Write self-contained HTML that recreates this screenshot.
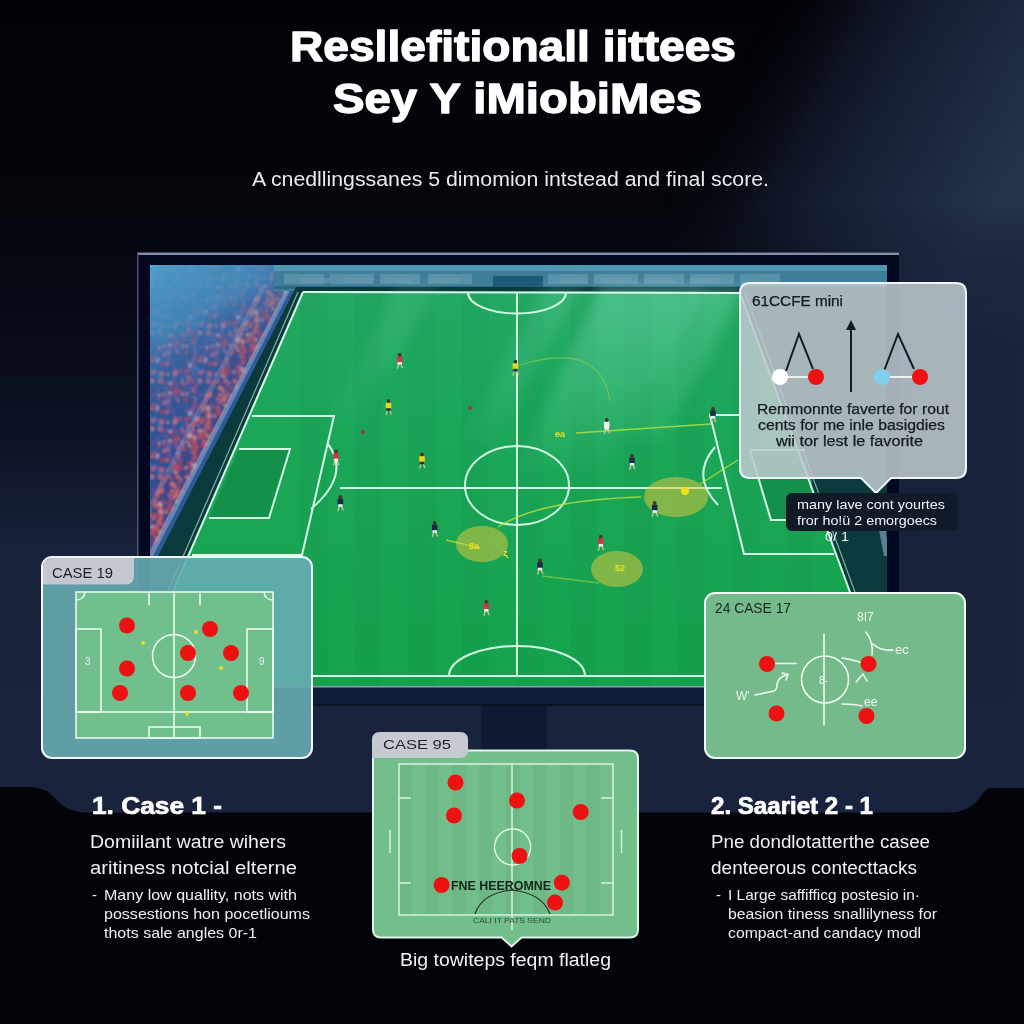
<!DOCTYPE html>
<html><head><meta charset="utf-8">
<style>
html,body{margin:0;padding:0;width:1024px;height:1024px;overflow:hidden;background:#04060b;}
svg{display:block;position:absolute;left:0;top:0;}
text{font-family:"Liberation Sans",sans-serif;}
</style></head>
<body>
<svg width="1024" height="1024" viewBox="0 0 1024 1024">
<defs>
  <linearGradient id="bgD" x1="700" y1="30" x2="1000" y2="198" gradientUnits="userSpaceOnUse">
    <stop offset="0.15" stop-color="#04060c" stop-opacity="0"/>
    <stop offset="0.4" stop-color="#0d1320"/>
    <stop offset="0.57" stop-color="#151e32"/>
    <stop offset="0.8" stop-color="#1d2942"/>
    <stop offset="1" stop-color="#24324c"/>
  </linearGradient>
  <linearGradient id="vOut" x1="0" y1="0" x2="0" y2="1024" gradientUnits="userSpaceOnUse">
    <stop offset="0.2" stop-color="#fff"/><stop offset="0.34" stop-color="#000"/>
  </linearGradient>
  <linearGradient id="vIn" x1="0" y1="0" x2="0" y2="1024" gradientUnits="userSpaceOnUse">
    <stop offset="0.16" stop-color="#000"/><stop offset="0.3" stop-color="#fff"/>
  </linearGradient>
  <mask id="mOut"><rect width="1024" height="1024" fill="url(#vOut)"/></mask>
  <mask id="mIn"><rect width="1024" height="1024" fill="url(#vIn)"/></mask>
  <linearGradient id="bgR" x1="0" y1="0" x2="1024" y2="0" gradientUnits="userSpaceOnUse">
    <stop offset="0" stop-color="#18223a" stop-opacity="0"/>
    <stop offset="0.72" stop-color="#18223a" stop-opacity="0"/>
    <stop offset="0.86" stop-color="#18223a" stop-opacity="0.9"/>
    <stop offset="1" stop-color="#19233b" stop-opacity="1"/>
  </linearGradient>
  <linearGradient id="bgV" x1="0" y1="0" x2="0" y2="1024" gradientUnits="userSpaceOnUse">
    <stop offset="0" stop-color="#020308"/>
    <stop offset="0.2" stop-color="#04060c"/>
    <stop offset="0.3" stop-color="#070a15"/>
    <stop offset="0.43" stop-color="#0d1324"/>
    <stop offset="0.54" stop-color="#18223b"/>
    <stop offset="0.7" stop-color="#19233d"/>
    <stop offset="1" stop-color="#19233d"/>
  </linearGradient>
  <linearGradient id="pitchG" x1="0" y1="265" x2="0" y2="690" gradientUnits="userSpaceOnUse">
    <stop offset="0" stop-color="#26aa66"/>
    <stop offset="0.3" stop-color="#1ca75a"/>
    <stop offset="1" stop-color="#15a34d"/>
  </linearGradient>
  <filter id="soft" x="0" y="0" width="100%" height="100%"><feGaussianBlur stdDeviation="0.9"/></filter>
  <filter id="blur6" x="-30%" y="-30%" width="160%" height="160%"><feGaussianBlur stdDeviation="7"/></filter>
  <linearGradient id="crowdG" x1="150" y1="265" x2="260" y2="470" gradientUnits="userSpaceOnUse">
    <stop offset="0" stop-color="#4a9ac4"/>
    <stop offset="0.35" stop-color="#336fa6"/>
    <stop offset="1" stop-color="#2b4f8a"/>
  </linearGradient>
  <linearGradient id="ray1" x1="0" y1="285" x2="0" y2="480" gradientUnits="userSpaceOnUse">
    <stop offset="0" stop-color="#a0f0e0" stop-opacity="0.32"/>
    <stop offset="0.5" stop-color="#a0f0e0" stop-opacity="0.2"/>
    <stop offset="1" stop-color="#a0f0e0" stop-opacity="0"/>
  </linearGradient>
  <linearGradient id="beam" x1="150" y1="265" x2="250" y2="440" gradientUnits="userSpaceOnUse">
    <stop offset="0" stop-color="#5cb0d8" stop-opacity="0.95"/>
    <stop offset="0.3" stop-color="#4a98c8" stop-opacity="0.6"/>
    <stop offset="0.6" stop-color="#3a78b0" stop-opacity="0.2"/>
    <stop offset="1" stop-color="#3a78b0" stop-opacity="0"/>
  </linearGradient>
  <pattern id="crowdFar" x="0" y="0" width="48" height="48" patternUnits="userSpaceOnUse"><rect width="48" height="48" fill="#2e4f8e"/><circle cx="22" cy="18" r="1.3" fill="#c0b0d0" opacity="0.85"/><circle cx="0" cy="24" r="2.4" fill="#d06070" opacity="0.85"/><circle cx="16" cy="45" r="2.1" fill="#c87888" opacity="0.85"/><circle cx="8" cy="45" r="2.4" fill="#c87888" opacity="0.85"/><circle cx="8" cy="11" r="1.3" fill="#b03848" opacity="0.85"/><circle cx="42" cy="48" r="1.2" fill="#c87888" opacity="0.85"/><circle cx="38" cy="43" r="2.4" fill="#3a6ab0" opacity="0.85"/><circle cx="32" cy="35" r="1.7" fill="#d06070" opacity="0.85"/><circle cx="37" cy="44" r="1.7" fill="#5a4a98" opacity="0.85"/><circle cx="39" cy="10" r="2.3" fill="#c87888" opacity="0.85"/><circle cx="3" cy="18" r="1.8" fill="#c84050" opacity="0.85"/><circle cx="11" cy="35" r="2.3" fill="#8a5a9a" opacity="0.85"/><circle cx="0" cy="37" r="1.4" fill="#3a6ab0" opacity="0.85"/><circle cx="16" cy="43" r="1.3" fill="#c84050" opacity="0.85"/><circle cx="24" cy="28" r="1.9" fill="#3a6ab0" opacity="0.85"/><circle cx="20" cy="19" r="2.0" fill="#d06070" opacity="0.85"/><circle cx="34" cy="7" r="2.4" fill="#c84050" opacity="0.85"/><circle cx="3" cy="27" r="1.9" fill="#7a4a90" opacity="0.85"/><circle cx="36" cy="35" r="1.9" fill="#c84050" opacity="0.85"/><circle cx="6" cy="34" r="2.4" fill="#3a6ab0" opacity="0.85"/><circle cx="8" cy="24" r="2.1" fill="#c0b0d0" opacity="0.85"/><circle cx="25" cy="27" r="2.1" fill="#5a4a98" opacity="0.85"/><circle cx="5" cy="42" r="1.6" fill="#3a6ab0" opacity="0.85"/><circle cx="19" cy="47" r="1.9" fill="#c84050" opacity="0.85"/><circle cx="18" cy="29" r="1.1" fill="#d06070" opacity="0.85"/><circle cx="10" cy="21" r="1.6" fill="#d06070" opacity="0.85"/><circle cx="15" cy="14" r="1.8" fill="#c84050" opacity="0.85"/><circle cx="1" cy="37" r="2.2" fill="#4a78b8" opacity="0.85"/><circle cx="17" cy="37" r="1.9" fill="#d06070" opacity="0.85"/><circle cx="20" cy="11" r="2.4" fill="#c87888" opacity="0.85"/><circle cx="24" cy="46" r="1.9" fill="#7a4a90" opacity="0.85"/><circle cx="32" cy="8" r="2.3" fill="#a05080" opacity="0.85"/><circle cx="1" cy="45" r="2.2" fill="#a05080" opacity="0.85"/><circle cx="45" cy="47" r="1.9" fill="#c84050" opacity="0.85"/><circle cx="2" cy="22" r="2.2" fill="#a05080" opacity="0.85"/><circle cx="29" cy="46" r="1.6" fill="#7a4a90" opacity="0.85"/><circle cx="23" cy="13" r="2.4" fill="#b03848" opacity="0.85"/><circle cx="14" cy="6" r="1.7" fill="#7a4a90" opacity="0.85"/><circle cx="34" cy="37" r="1.6" fill="#7a4a90" opacity="0.85"/><circle cx="32" cy="13" r="1.9" fill="#8a5a9a" opacity="0.85"/><circle cx="24" cy="5" r="1.2" fill="#b03848" opacity="0.85"/><circle cx="6" cy="38" r="2.2" fill="#7a4a90" opacity="0.85"/><circle cx="37" cy="11" r="1.1" fill="#7a4a90" opacity="0.85"/><circle cx="23" cy="28" r="1.9" fill="#d06070" opacity="0.85"/><circle cx="8" cy="23" r="2.4" fill="#b03848" opacity="0.85"/><circle cx="3" cy="31" r="1.9" fill="#8a5a9a" opacity="0.85"/><circle cx="43" cy="26" r="1.8" fill="#b03848" opacity="0.85"/><circle cx="31" cy="38" r="2.3" fill="#8a5a9a" opacity="0.85"/><circle cx="26" cy="14" r="2.1" fill="#7a4a90" opacity="0.85"/><circle cx="5" cy="34" r="1.7" fill="#4a78b8" opacity="0.85"/><circle cx="43" cy="35" r="2.1" fill="#c84050" opacity="0.85"/><circle cx="18" cy="42" r="1.4" fill="#8a5a9a" opacity="0.85"/><circle cx="30" cy="42" r="1.2" fill="#8a5a9a" opacity="0.85"/><circle cx="4" cy="2" r="1.7" fill="#8a5a9a" opacity="0.85"/><circle cx="3" cy="9" r="2.0" fill="#7a4a90" opacity="0.85"/><circle cx="4" cy="1" r="2.0" fill="#b03848" opacity="0.85"/><circle cx="26" cy="1" r="2.2" fill="#5a4a98" opacity="0.85"/><circle cx="4" cy="15" r="1.7" fill="#4a78b8" opacity="0.85"/><circle cx="28" cy="47" r="2.5" fill="#7a4a90" opacity="0.85"/><circle cx="5" cy="17" r="1.4" fill="#7a4a90" opacity="0.85"/><circle cx="9" cy="11" r="1.3" fill="#d06070" opacity="0.85"/><circle cx="4" cy="31" r="1.2" fill="#d06070" opacity="0.85"/><circle cx="36" cy="22" r="1.8" fill="#5a4a98" opacity="0.85"/><circle cx="42" cy="4" r="1.1" fill="#b03848" opacity="0.85"/><circle cx="33" cy="1" r="1.5" fill="#8a5a9a" opacity="0.85"/><circle cx="1" cy="5" r="2.2" fill="#c84050" opacity="0.85"/><circle cx="43" cy="23" r="1.5" fill="#3a6ab0" opacity="0.85"/><circle cx="31" cy="33" r="1.3" fill="#c84050" opacity="0.85"/><circle cx="38" cy="47" r="2.2" fill="#c87888" opacity="0.85"/><circle cx="45" cy="42" r="2.4" fill="#d06070" opacity="0.85"/><circle cx="1" cy="21" r="1.7" fill="#5a4a98" opacity="0.85"/><circle cx="24" cy="17" r="2.3" fill="#c87888" opacity="0.85"/><circle cx="21" cy="4" r="1.5" fill="#4a78b8" opacity="0.85"/><circle cx="29" cy="27" r="1.7" fill="#7a4a90" opacity="0.85"/><circle cx="16" cy="3" r="1.2" fill="#5a4a98" opacity="0.85"/><circle cx="26" cy="9" r="2.1" fill="#c0b0d0" opacity="0.85"/><circle cx="43" cy="45" r="1.2" fill="#4a78b8" opacity="0.85"/><circle cx="46" cy="29" r="2.4" fill="#c0b0d0" opacity="0.85"/><circle cx="35" cy="10" r="1.9" fill="#5a4a98" opacity="0.85"/><circle cx="4" cy="32" r="1.7" fill="#3a6ab0" opacity="0.85"/><circle cx="42" cy="16" r="2.3" fill="#b03848" opacity="0.85"/><circle cx="24" cy="22" r="1.1" fill="#b03848" opacity="0.85"/><circle cx="10" cy="11" r="2.5" fill="#5a4a98" opacity="0.85"/><circle cx="2" cy="7" r="1.3" fill="#d06070" opacity="0.85"/><circle cx="24" cy="38" r="1.7" fill="#c87888" opacity="0.85"/><circle cx="19" cy="28" r="2.3" fill="#b03848" opacity="0.85"/><circle cx="33" cy="17" r="1.5" fill="#5a4a98" opacity="0.85"/><circle cx="44" cy="27" r="2.2" fill="#7a4a90" opacity="0.85"/><circle cx="27" cy="0" r="2.1" fill="#c84050" opacity="0.85"/><circle cx="13" cy="25" r="2.2" fill="#c87888" opacity="0.85"/><circle cx="44" cy="36" r="1.5" fill="#7a4a90" opacity="0.85"/><circle cx="25" cy="23" r="2.5" fill="#7a4a90" opacity="0.85"/><circle cx="16" cy="36" r="1.6" fill="#8a5a9a" opacity="0.85"/><circle cx="2" cy="13" r="1.6" fill="#8a5a9a" opacity="0.85"/><circle cx="9" cy="37" r="2.0" fill="#d06070" opacity="0.85"/><circle cx="22" cy="16" r="2.1" fill="#7a4a90" opacity="0.85"/><circle cx="43" cy="10" r="1.4" fill="#c0b0d0" opacity="0.85"/><circle cx="27" cy="0" r="1.9" fill="#c84050" opacity="0.85"/><circle cx="45" cy="34" r="1.8" fill="#c84050" opacity="0.85"/><circle cx="18" cy="38" r="2.3" fill="#c87888" opacity="0.85"/><circle cx="30" cy="46" r="1.9" fill="#7a4a90" opacity="0.85"/><circle cx="46" cy="4" r="1.6" fill="#3a6ab0" opacity="0.85"/><circle cx="37" cy="47" r="1.4" fill="#b03848" opacity="0.85"/><circle cx="1" cy="32" r="1.6" fill="#3a6ab0" opacity="0.85"/><circle cx="47" cy="8" r="1.2" fill="#8a5a9a" opacity="0.85"/><circle cx="28" cy="10" r="2.3" fill="#a05080" opacity="0.85"/><circle cx="34" cy="16" r="1.7" fill="#d06070" opacity="0.85"/><circle cx="19" cy="37" r="1.7" fill="#c84050" opacity="0.85"/><circle cx="15" cy="40" r="2.3" fill="#3a6ab0" opacity="0.85"/><circle cx="31" cy="38" r="2.4" fill="#c87888" opacity="0.85"/><circle cx="41" cy="38" r="2.4" fill="#7a4a90" opacity="0.85"/><circle cx="40" cy="2" r="2.5" fill="#7a4a90" opacity="0.85"/><circle cx="14" cy="23" r="1.4" fill="#c0b0d0" opacity="0.85"/><circle cx="31" cy="5" r="2.4" fill="#b03848" opacity="0.85"/><circle cx="13" cy="18" r="2.2" fill="#5a4a98" opacity="0.85"/><circle cx="26" cy="48" r="2.1" fill="#c0b0d0" opacity="0.85"/><circle cx="25" cy="15" r="2.3" fill="#3a6ab0" opacity="0.85"/><circle cx="41" cy="10" r="2.1" fill="#a05080" opacity="0.85"/><circle cx="15" cy="11" r="1.3" fill="#c0b0d0" opacity="0.85"/><circle cx="20" cy="13" r="2.4" fill="#5a4a98" opacity="0.85"/></pattern><pattern id="crowdNear" x="0" y="0" width="48" height="48" patternUnits="userSpaceOnUse"><rect width="48" height="48" fill="#3a4688"/><circle cx="16" cy="44" r="1.9" fill="#d04048" opacity="0.85"/><circle cx="6" cy="47" r="1.2" fill="#c03840" opacity="0.85"/><circle cx="1" cy="40" r="2.1" fill="#e0a0a0" opacity="0.85"/><circle cx="17" cy="37" r="2.4" fill="#d85058" opacity="0.85"/><circle cx="34" cy="34" r="2.4" fill="#d04048" opacity="0.85"/><circle cx="12" cy="7" r="1.9" fill="#a04068" opacity="0.85"/><circle cx="17" cy="32" r="2.4" fill="#e0a0a0" opacity="0.85"/><circle cx="35" cy="25" r="1.7" fill="#e06868" opacity="0.85"/><circle cx="47" cy="15" r="1.7" fill="#d88070" opacity="0.85"/><circle cx="21" cy="47" r="1.7" fill="#d85058" opacity="0.85"/><circle cx="3" cy="17" r="2.1" fill="#e07050" opacity="0.85"/><circle cx="11" cy="12" r="1.7" fill="#d85058" opacity="0.85"/><circle cx="48" cy="39" r="1.8" fill="#e06868" opacity="0.85"/><circle cx="3" cy="6" r="2.1" fill="#e0a0a0" opacity="0.85"/><circle cx="20" cy="1" r="1.7" fill="#a04068" opacity="0.85"/><circle cx="12" cy="9" r="1.9" fill="#c86070" opacity="0.85"/><circle cx="8" cy="1" r="1.5" fill="#d04048" opacity="0.85"/><circle cx="25" cy="28" r="1.1" fill="#c86070" opacity="0.85"/><circle cx="29" cy="18" r="1.5" fill="#e06868" opacity="0.85"/><circle cx="47" cy="4" r="1.8" fill="#d88070" opacity="0.85"/><circle cx="7" cy="36" r="2.3" fill="#c03840" opacity="0.85"/><circle cx="15" cy="14" r="2.1" fill="#b83848" opacity="0.85"/><circle cx="31" cy="15" r="2.1" fill="#c86070" opacity="0.85"/><circle cx="3" cy="26" r="2.1" fill="#d85058" opacity="0.85"/><circle cx="4" cy="36" r="2.3" fill="#e0a0a0" opacity="0.85"/><circle cx="4" cy="23" r="1.9" fill="#b83848" opacity="0.85"/><circle cx="29" cy="48" r="1.8" fill="#a04068" opacity="0.85"/><circle cx="26" cy="45" r="1.9" fill="#d04048" opacity="0.85"/><circle cx="34" cy="21" r="1.9" fill="#7a5aa0" opacity="0.85"/><circle cx="34" cy="37" r="1.3" fill="#d04048" opacity="0.85"/><circle cx="41" cy="16" r="2.1" fill="#b83848" opacity="0.85"/><circle cx="46" cy="48" r="1.6" fill="#e06868" opacity="0.85"/><circle cx="8" cy="47" r="2.1" fill="#e0a0a0" opacity="0.85"/><circle cx="16" cy="4" r="2.2" fill="#d88070" opacity="0.85"/><circle cx="44" cy="46" r="1.5" fill="#d04048" opacity="0.85"/><circle cx="29" cy="39" r="1.2" fill="#a04068" opacity="0.85"/><circle cx="11" cy="14" r="1.6" fill="#b83848" opacity="0.85"/><circle cx="2" cy="10" r="2.3" fill="#d85058" opacity="0.85"/><circle cx="28" cy="4" r="2.2" fill="#d88070" opacity="0.85"/><circle cx="0" cy="43" r="2.2" fill="#c86070" opacity="0.85"/><circle cx="35" cy="8" r="1.2" fill="#d85058" opacity="0.85"/><circle cx="6" cy="41" r="1.3" fill="#e07050" opacity="0.85"/><circle cx="18" cy="11" r="2.1" fill="#e07050" opacity="0.85"/><circle cx="36" cy="24" r="1.9" fill="#a04068" opacity="0.85"/><circle cx="46" cy="32" r="1.8" fill="#a04068" opacity="0.85"/><circle cx="33" cy="12" r="2.5" fill="#e06868" opacity="0.85"/><circle cx="36" cy="29" r="1.6" fill="#c86070" opacity="0.85"/><circle cx="24" cy="29" r="2.2" fill="#a04068" opacity="0.85"/><circle cx="19" cy="43" r="1.6" fill="#c03840" opacity="0.85"/><circle cx="16" cy="39" r="1.6" fill="#e07050" opacity="0.85"/><circle cx="4" cy="4" r="1.6" fill="#c86070" opacity="0.85"/><circle cx="45" cy="31" r="2.0" fill="#b83848" opacity="0.85"/><circle cx="43" cy="45" r="2.0" fill="#d88070" opacity="0.85"/><circle cx="33" cy="16" r="1.6" fill="#d88070" opacity="0.85"/><circle cx="38" cy="13" r="1.3" fill="#d85058" opacity="0.85"/><circle cx="1" cy="27" r="2.2" fill="#d04048" opacity="0.85"/><circle cx="33" cy="9" r="1.2" fill="#a04068" opacity="0.85"/><circle cx="6" cy="34" r="2.1" fill="#7a5aa0" opacity="0.85"/><circle cx="31" cy="4" r="1.3" fill="#d85058" opacity="0.85"/><circle cx="31" cy="7" r="1.8" fill="#d88070" opacity="0.85"/><circle cx="0" cy="45" r="1.2" fill="#7a5aa0" opacity="0.85"/><circle cx="31" cy="31" r="1.1" fill="#c86070" opacity="0.85"/><circle cx="42" cy="36" r="1.8" fill="#e0a0a0" opacity="0.85"/><circle cx="45" cy="13" r="1.3" fill="#e0a0a0" opacity="0.85"/><circle cx="32" cy="36" r="2.3" fill="#c03840" opacity="0.85"/><circle cx="0" cy="19" r="1.1" fill="#c86070" opacity="0.85"/><circle cx="1" cy="41" r="2.1" fill="#c03840" opacity="0.85"/><circle cx="14" cy="41" r="1.5" fill="#d85058" opacity="0.85"/><circle cx="21" cy="47" r="1.4" fill="#b83848" opacity="0.85"/><circle cx="10" cy="5" r="1.4" fill="#d04048" opacity="0.85"/><circle cx="22" cy="32" r="2.1" fill="#e07050" opacity="0.85"/><circle cx="13" cy="17" r="2.2" fill="#b83848" opacity="0.85"/><circle cx="43" cy="37" r="1.5" fill="#d04048" opacity="0.85"/><circle cx="2" cy="33" r="2.3" fill="#e0a0a0" opacity="0.85"/><circle cx="33" cy="45" r="2.4" fill="#7a5aa0" opacity="0.85"/><circle cx="11" cy="1" r="1.2" fill="#d04048" opacity="0.85"/><circle cx="34" cy="17" r="1.2" fill="#c03840" opacity="0.85"/><circle cx="48" cy="31" r="1.9" fill="#c86070" opacity="0.85"/><circle cx="26" cy="15" r="2.1" fill="#c86070" opacity="0.85"/><circle cx="28" cy="11" r="1.8" fill="#d88070" opacity="0.85"/><circle cx="21" cy="23" r="1.4" fill="#c86070" opacity="0.85"/><circle cx="8" cy="5" r="1.6" fill="#e06868" opacity="0.85"/><circle cx="16" cy="30" r="2.0" fill="#e06868" opacity="0.85"/><circle cx="3" cy="18" r="2.5" fill="#b83848" opacity="0.85"/><circle cx="40" cy="6" r="1.5" fill="#a04068" opacity="0.85"/><circle cx="10" cy="38" r="1.7" fill="#d88070" opacity="0.85"/><circle cx="31" cy="40" r="1.8" fill="#e0a0a0" opacity="0.85"/><circle cx="17" cy="10" r="2.3" fill="#d04048" opacity="0.85"/><circle cx="16" cy="43" r="2.4" fill="#c86070" opacity="0.85"/><circle cx="47" cy="20" r="1.6" fill="#7a5aa0" opacity="0.85"/><circle cx="32" cy="36" r="1.4" fill="#c86070" opacity="0.85"/><circle cx="12" cy="46" r="2.2" fill="#c86070" opacity="0.85"/><circle cx="11" cy="13" r="2.4" fill="#a04068" opacity="0.85"/><circle cx="2" cy="21" r="1.6" fill="#e07050" opacity="0.85"/><circle cx="19" cy="20" r="1.2" fill="#b83848" opacity="0.85"/><circle cx="14" cy="12" r="2.1" fill="#e06868" opacity="0.85"/><circle cx="20" cy="2" r="1.6" fill="#a04068" opacity="0.85"/><circle cx="17" cy="27" r="2.1" fill="#e07050" opacity="0.85"/><circle cx="34" cy="45" r="1.7" fill="#e07050" opacity="0.85"/><circle cx="46" cy="1" r="1.4" fill="#d85058" opacity="0.85"/><circle cx="46" cy="48" r="2.1" fill="#7a5aa0" opacity="0.85"/><circle cx="30" cy="17" r="1.8" fill="#e07050" opacity="0.85"/><circle cx="46" cy="9" r="2.3" fill="#a04068" opacity="0.85"/><circle cx="12" cy="27" r="1.6" fill="#d85058" opacity="0.85"/><circle cx="45" cy="3" r="1.9" fill="#d88070" opacity="0.85"/><circle cx="22" cy="45" r="1.6" fill="#b83848" opacity="0.85"/><circle cx="33" cy="21" r="1.6" fill="#e0a0a0" opacity="0.85"/><circle cx="9" cy="3" r="2.2" fill="#c86070" opacity="0.85"/><circle cx="16" cy="10" r="1.2" fill="#7a5aa0" opacity="0.85"/><circle cx="11" cy="7" r="1.6" fill="#c03840" opacity="0.85"/><circle cx="28" cy="29" r="2.4" fill="#d04048" opacity="0.85"/><circle cx="8" cy="6" r="1.3" fill="#d04048" opacity="0.85"/><circle cx="1" cy="46" r="1.4" fill="#c03840" opacity="0.85"/><circle cx="36" cy="32" r="2.0" fill="#a04068" opacity="0.85"/><circle cx="11" cy="3" r="2.3" fill="#a04068" opacity="0.85"/><circle cx="3" cy="38" r="2.2" fill="#b83848" opacity="0.85"/><circle cx="38" cy="11" r="1.6" fill="#d88070" opacity="0.85"/><circle cx="36" cy="2" r="1.6" fill="#d85058" opacity="0.85"/><circle cx="31" cy="31" r="1.1" fill="#d85058" opacity="0.85"/><circle cx="5" cy="15" r="2.0" fill="#d04048" opacity="0.85"/><circle cx="37" cy="48" r="2.1" fill="#e07050" opacity="0.85"/><circle cx="17" cy="41" r="1.2" fill="#a04068" opacity="0.85"/><circle cx="12" cy="25" r="1.9" fill="#e07050" opacity="0.85"/><circle cx="1" cy="4" r="1.9" fill="#e07050" opacity="0.85"/><circle cx="26" cy="24" r="2.0" fill="#d85058" opacity="0.85"/><circle cx="36" cy="16" r="1.6" fill="#d85058" opacity="0.85"/><circle cx="2" cy="47" r="1.3" fill="#e07050" opacity="0.85"/><circle cx="26" cy="19" r="2.1" fill="#7a5aa0" opacity="0.85"/><circle cx="29" cy="35" r="2.0" fill="#b83848" opacity="0.85"/><circle cx="47" cy="35" r="1.4" fill="#e06868" opacity="0.85"/><circle cx="11" cy="22" r="2.2" fill="#d04048" opacity="0.85"/><circle cx="44" cy="43" r="1.8" fill="#a04068" opacity="0.85"/><circle cx="4" cy="14" r="1.1" fill="#d04048" opacity="0.85"/><circle cx="4" cy="12" r="1.9" fill="#a04068" opacity="0.85"/><circle cx="12" cy="35" r="2.3" fill="#d04048" opacity="0.85"/><circle cx="30" cy="6" r="1.6" fill="#e06868" opacity="0.85"/><circle cx="6" cy="35" r="2.2" fill="#e06868" opacity="0.85"/><circle cx="3" cy="12" r="2.2" fill="#d04048" opacity="0.85"/><circle cx="41" cy="4" r="1.8" fill="#7a5aa0" opacity="0.85"/><circle cx="44" cy="10" r="1.6" fill="#d88070" opacity="0.85"/><circle cx="16" cy="24" r="2.4" fill="#e0a0a0" opacity="0.85"/><circle cx="46" cy="4" r="2.5" fill="#e0a0a0" opacity="0.85"/><circle cx="33" cy="41" r="1.5" fill="#e07050" opacity="0.85"/><circle cx="28" cy="22" r="1.8" fill="#b83848" opacity="0.85"/><circle cx="17" cy="10" r="2.4" fill="#d85058" opacity="0.85"/><circle cx="13" cy="1" r="2.4" fill="#d85058" opacity="0.85"/><circle cx="40" cy="18" r="1.1" fill="#d85058" opacity="0.85"/><circle cx="29" cy="12" r="1.4" fill="#d85058" opacity="0.85"/><circle cx="36" cy="37" r="1.7" fill="#d04048" opacity="0.85"/><circle cx="1" cy="27" r="1.5" fill="#7a5aa0" opacity="0.85"/></pattern>
  <clipPath id="pitchClip"><polygon points="303,291 740,292 886,690 130,690"/></clipPath>
  <clipPath id="screen"><rect x="150" y="265" width="737" height="421"/></clipPath>
</defs>

<!-- background -->
<rect x="0" y="0" width="1024" height="1024" fill="url(#bgV)"/>
<rect x="0" y="0" width="1024" height="1024" fill="url(#bgR)" mask="url(#mIn)"/>
<rect x="0" y="0" width="1024" height="1024" fill="url(#bgD)" mask="url(#mOut)"/>
<!-- navy wall band -->
<rect x="0" y="700" width="1024" height="115" fill="#19233d"/>
<!-- black desk with raised corner tabs -->
<path d="M0 787 L32 787 Q46 788 56 799 Q67 812 86 812.5 L950 812.5 Q968 812 978 800 Q986 788 990 788 L1024 788 L1024 1024 L0 1024 Z" fill="#030409"/>

<!-- monitor -->
<rect x="137" y="252" width="762" height="454" fill="#03071f"/>
<rect x="137" y="252" width="762" height="1" fill="#3a4558"/><rect x="137" y="253" width="762" height="2" fill="#8590a8"/>
<rect x="137" y="252" width="1.5" height="454" fill="#4a5672"/>
<rect x="139" y="688" width="758" height="18" fill="#0f1c38"/>
<rect x="139" y="704" width="758" height="2" fill="#0b1226"/>
<!-- stand neck -->
<rect x="481" y="706" width="66" height="60" fill="#0e1a33"/>

<g clip-path="url(#screen)">
  <rect x="150" y="265" width="737" height="423" fill="#2f5a98"/>
  <g filter="url(#soft)">
  <polygon points="150,265 292,265 289,287 150,556" fill="url(#crowdFar)"/>
  <polygon points="289,287 262,287 150,505 150,556" fill="url(#crowdNear)" opacity="0.95"/>
  </g>
  <polygon points="150,265 292,265 289,287 150,556" fill="url(#beam)"/>
  <polygon points="150,262 290,262 240,300 150,345" fill="#3f8ebc" opacity="0.55" filter="url(#blur6)"/>
  <!-- crowd railings -->
  <polygon points="262,284 268,284 150,514 150,502" fill="#a0bcd8" opacity="0.22"/>
  <polygon points="287,287 292,287 153,556 150,556 150,550" fill="#a8c0d8" opacity="0.45"/>
  <!-- top stands -->
  <rect x="274" y="265" width="613" height="26" fill="#3f7e98"/>
  <rect x="274" y="265" width="613" height="6" fill="#5298b0"/>
  <rect x="274" y="286" width="613" height="3" fill="#2a6a84"/>
  <rect x="493" y="276" width="50" height="15" fill="#1d5a78"/>
  <g fill="#7aaac0" opacity="0.45">
    <rect x="284" y="274" width="40" height="10"/><rect x="330" y="274" width="44" height="10"/><rect x="380" y="274" width="40" height="10"/><rect x="428" y="274" width="44" height="10"/>
    <rect x="548" y="274" width="40" height="10"/><rect x="594" y="274" width="44" height="10"/><rect x="644" y="274" width="40" height="10"/><rect x="690" y="274" width="44" height="10"/><rect x="740" y="274" width="40" height="10"/>
  </g>
  <g fill="#6a9ab0" opacity="0.6">
    <rect x="300" y="278" width="30" height="5"/><rect x="345" y="278" width="28" height="5"/><rect x="385" y="278" width="26" height="5"/><rect x="430" y="278" width="30" height="5"/>
    <rect x="560" y="278" width="28" height="5"/><rect x="600" y="278" width="30" height="5"/><rect x="645" y="278" width="30" height="5"/><rect x="690" y="278" width="30" height="5"/>
  </g>
  <!-- dark strip around pitch -->
  <polygon points="296,287 887,287 887,688 150,688 150,556 158,556" fill="#0b3a3c"/>
  <polygon points="876,515 884,515 887,540 887,556 884,556" fill="#8fb0cc" opacity="0.6"/>
  <!-- pitch -->
  <polygon points="303,291 740,292 886,690 130,690" fill="url(#pitchG)"/>
  <g clip-path="url(#pitchClip)" fill="#004020" opacity="0.03"><rect x="300" y="292" width="27" height="400"/><rect x="354" y="292" width="27" height="400"/><rect x="408" y="292" width="27" height="400"/><rect x="462" y="292" width="27" height="400"/><rect x="516" y="292" width="27" height="400"/><rect x="570" y="292" width="27" height="400"/><rect x="624" y="292" width="27" height="400"/><rect x="678" y="292" width="27" height="400"/><rect x="732" y="292" width="27" height="400"/><rect x="786" y="292" width="27" height="400"/><rect x="840" y="292" width="27" height="400"/></g>
  <!-- light rays -->
  <g filter="url(#blur6)">
    <polygon points="600,285 705,285 600,480 515,480" fill="url(#ray1)" opacity="1"/>
    <polygon points="700,285 745,285 665,440 625,440" fill="url(#ray1)" opacity="0.8"/>
    <polygon points="545,285 585,285 495,440 465,440" fill="url(#ray1)" opacity="0.5"/>
    <polygon points="400,285 440,285 360,420 330,420" fill="url(#ray1)" opacity="0.35"/>
  </g>
  <!-- goal box fills -->
  <polygon points="239,449 290,449 269,518 209,518" fill="#13904a"/>
  <polygon points="750,450 800,450 812,480 812,520 771,520" fill="#15904c"/>
  <!-- pitch lines -->
  <g stroke="#d4fbe6" stroke-width="2" fill="none">
    <polyline points="303,292 740,293"/>
    <line x1="303" y1="292" x2="130" y2="690"/>
    <line x1="298" y1="292" x2="125" y2="690" stroke-width="1.2" opacity="0.6"/>
    <line x1="740" y1="293" x2="886" y2="690"/>
    <line x1="745" y1="293" x2="891" y2="690" stroke-width="1.2" opacity="0.6"/>
    <line x1="517" y1="292" x2="517" y2="676"/>
    <line x1="310" y1="676" x2="710" y2="676"/>
    <line x1="340" y1="488" x2="722" y2="488"/>
    <ellipse cx="517" cy="485.5" rx="52" ry="39.5"/>
    <path d="M468 292.6 A49 21 0 0 0 566 292.6"/>
    <path d="M449 676 A68 30 0 0 1 585 676"/>
    <!-- left penalty box -->
    <polyline points="252,416 334,416 302,555 192,555"/>
    <polyline points="239,449 290,449 269,518 209,518"/>
    <path d="M327 443 Q352 474 311 509"/>
    <!-- right penalty box -->
    <polyline points="740,415 710,415 744,554 834,554"/>
    <polyline points="805,450 750,450 771,520 800,520"/>
    <path d="M715 447 Q690 476 718 505"/>
  </g>
  <!-- highlight ellipses -->
  <g fill="#e0c840" opacity="0.52">
    <ellipse cx="676" cy="497" rx="32" ry="20"/>
    <ellipse cx="482" cy="544" rx="26" ry="18"/>
    <ellipse cx="617" cy="569" rx="26" ry="18"/>
  </g>
  <g stroke="#b8e040" stroke-width="1.3" fill="none" opacity="0.85">
    <path d="M498 527 Q540 500 641 497"/>
    <path d="M700 484 L738 460"/>
    <path d="M576 433 L711 424"/>
    <path d="M520 365 Q600 340 610 401" opacity="0.5"/>
    <path d="M446 540 L480 548"/>
    <path d="M542 576 L599 583" opacity="0.6"/>
  </g>
  <!-- players -->
  <g>
  <g transform="translate(395.7,352.8)"><line x1="3" y1="11" x2="1.5" y2="16" stroke="#d8c0a0" stroke-width="1.3"/><line x1="5" y1="11" x2="7" y2="15.5" stroke="#d8c0a0" stroke-width="1.3"/><rect x="1.2" y="3.6" width="5.6" height="6.4" rx="1.2" fill="#c83848"/><rect x="1.8" y="9.2" width="4.4" height="2.6" fill="#f0e8ea"/><circle cx="4" cy="2" r="1.9" fill="#4a3428"/></g>
  <g transform="translate(332.0,449.4)"><line x1="3" y1="11" x2="1.5" y2="16" stroke="#d8c0a0" stroke-width="1.3"/><line x1="5" y1="11" x2="7" y2="15.5" stroke="#d8c0a0" stroke-width="1.3"/><rect x="1.2" y="3.6" width="5.6" height="6.4" rx="1.2" fill="#c83848"/><rect x="1.8" y="9.2" width="4.4" height="2.6" fill="#f0e8ea"/><circle cx="4" cy="2" r="1.9" fill="#4a3428"/></g>
  <g transform="translate(596.8,534.7)"><line x1="3" y1="11" x2="1.5" y2="16" stroke="#d8c0a0" stroke-width="1.3"/><line x1="5" y1="11" x2="7" y2="15.5" stroke="#d8c0a0" stroke-width="1.3"/><rect x="1.2" y="3.6" width="5.6" height="6.4" rx="1.2" fill="#c83848"/><rect x="1.8" y="9.2" width="4.4" height="2.6" fill="#f0e8ea"/><circle cx="4" cy="2" r="1.9" fill="#4a3428"/></g>
  <g transform="translate(482.3,599.8)"><line x1="3" y1="11" x2="1.5" y2="16" stroke="#d8c0a0" stroke-width="1.3"/><line x1="5" y1="11" x2="7" y2="15.5" stroke="#d8c0a0" stroke-width="1.3"/><rect x="1.2" y="3.6" width="5.6" height="6.4" rx="1.2" fill="#c83848"/><rect x="1.8" y="9.2" width="4.4" height="2.6" fill="#f0e8ea"/><circle cx="4" cy="2" r="1.9" fill="#4a3428"/></g>
  <g transform="translate(511.5,359.6)"><line x1="3" y1="11" x2="1.5" y2="16" stroke="#d8c0a0" stroke-width="1.3"/><line x1="5" y1="11" x2="7" y2="15.5" stroke="#d8c0a0" stroke-width="1.3"/><rect x="1.2" y="3.6" width="5.6" height="6.4" rx="1.2" fill="#e6d820"/><rect x="1.8" y="9.2" width="4.4" height="2.6" fill="#2a3040"/><circle cx="4" cy="2" r="1.9" fill="#4a3428"/></g>
  <g transform="translate(384.5,399.0)"><line x1="3" y1="11" x2="1.5" y2="16" stroke="#d8c0a0" stroke-width="1.3"/><line x1="5" y1="11" x2="7" y2="15.5" stroke="#d8c0a0" stroke-width="1.3"/><rect x="1.2" y="3.6" width="5.6" height="6.4" rx="1.2" fill="#e6d820"/><rect x="1.8" y="9.2" width="4.4" height="2.6" fill="#2a3040"/><circle cx="4" cy="2" r="1.9" fill="#4a3428"/></g>
  <g transform="translate(418.0,452.5)"><line x1="3" y1="11" x2="1.5" y2="16" stroke="#d8c0a0" stroke-width="1.3"/><line x1="5" y1="11" x2="7" y2="15.5" stroke="#d8c0a0" stroke-width="1.3"/><rect x="1.2" y="3.6" width="5.6" height="6.4" rx="1.2" fill="#e6d820"/><rect x="1.8" y="9.2" width="4.4" height="2.6" fill="#2a3040"/><circle cx="4" cy="2" r="1.9" fill="#4a3428"/></g>
  <g transform="translate(602.7,418.0)"><line x1="3" y1="11" x2="1.5" y2="16" stroke="#d8c0a0" stroke-width="1.3"/><line x1="5" y1="11" x2="7" y2="15.5" stroke="#d8c0a0" stroke-width="1.3"/><rect x="1.2" y="3.6" width="5.6" height="6.4" rx="1.2" fill="#f0f0f0"/><rect x="1.8" y="9.2" width="4.4" height="2.6" fill="#f0f0f0"/><circle cx="4" cy="2" r="1.9" fill="#4a3428"/></g>
  <g transform="translate(709.0,406.7)"><line x1="3" y1="11" x2="1.5" y2="16" stroke="#d8c0a0" stroke-width="1.3"/><line x1="5" y1="11" x2="7" y2="15.5" stroke="#d8c0a0" stroke-width="1.3"/><rect x="1.2" y="3.6" width="5.6" height="6.4" rx="1.2" fill="#1c2a4a"/><rect x="1.8" y="9.2" width="4.4" height="2.6" fill="#e8eef4"/><circle cx="4" cy="2" r="1.9" fill="#4a3428"/></g>
  <g transform="translate(628.0,453.8)"><line x1="3" y1="11" x2="1.5" y2="16" stroke="#d8c0a0" stroke-width="1.3"/><line x1="5" y1="11" x2="7" y2="15.5" stroke="#d8c0a0" stroke-width="1.3"/><rect x="1.2" y="3.6" width="5.6" height="6.4" rx="1.2" fill="#1c2a4a"/><rect x="1.8" y="9.2" width="4.4" height="2.6" fill="#e8eef4"/><circle cx="4" cy="2" r="1.9" fill="#4a3428"/></g>
  <g transform="translate(336.4,495.0)"><line x1="3" y1="11" x2="1.5" y2="16" stroke="#d8c0a0" stroke-width="1.3"/><line x1="5" y1="11" x2="7" y2="15.5" stroke="#d8c0a0" stroke-width="1.3"/><rect x="1.2" y="3.6" width="5.6" height="6.4" rx="1.2" fill="#1c2a4a"/><rect x="1.8" y="9.2" width="4.4" height="2.6" fill="#e8eef4"/><circle cx="4" cy="2" r="1.9" fill="#4a3428"/></g>
  <g transform="translate(430.7,521.0)"><line x1="3" y1="11" x2="1.5" y2="16" stroke="#d8c0a0" stroke-width="1.3"/><line x1="5" y1="11" x2="7" y2="15.5" stroke="#d8c0a0" stroke-width="1.3"/><rect x="1.2" y="3.6" width="5.6" height="6.4" rx="1.2" fill="#1c2a4a"/><rect x="1.8" y="9.2" width="4.4" height="2.6" fill="#e8eef4"/><circle cx="4" cy="2" r="1.9" fill="#4a3428"/></g>
  <g transform="translate(650.7,501.0)"><line x1="3" y1="11" x2="1.5" y2="16" stroke="#d8c0a0" stroke-width="1.3"/><line x1="5" y1="11" x2="7" y2="15.5" stroke="#d8c0a0" stroke-width="1.3"/><rect x="1.2" y="3.6" width="5.6" height="6.4" rx="1.2" fill="#1c2a4a"/><rect x="1.8" y="9.2" width="4.4" height="2.6" fill="#e8eef4"/><circle cx="4" cy="2" r="1.9" fill="#4a3428"/></g>
  <g transform="translate(536.0,558.5)"><line x1="3" y1="11" x2="1.5" y2="16" stroke="#d8c0a0" stroke-width="1.3"/><line x1="5" y1="11" x2="7" y2="15.5" stroke="#d8c0a0" stroke-width="1.3"/><rect x="1.2" y="3.6" width="5.6" height="6.4" rx="1.2" fill="#1c2a4a"/><rect x="1.8" y="9.2" width="4.4" height="2.6" fill="#e8eef4"/><circle cx="4" cy="2" r="1.9" fill="#4a3428"/></g>
  <g fill="#b03040"><circle cx="470" cy="408" r="2"/><circle cx="363" cy="432" r="2"/></g>
    <circle cx="685" cy="491" r="4" fill="#f0e020"/>
    <g fill="#f0e020" font-size="9" font-weight="bold"><text x="555" y="437">ea</text><text x="469" y="549">8a</text><text x="615" y="571">52</text><text x="503" y="556">ʐ</text></g>
  </g>
</g>

<rect x="150" y="686" width="737" height="1.6" fill="#8a9cb8"/>

<!-- ===== callout top-right ===== -->
<g>
  <path d="M750 283 L956 283 Q966 283 966 293 L966 468 Q966 478 956 478 L891 478 L876 493 L861 478 L750 478 Q740 478 740 468 L740 293 Q740 283 750 283 Z" fill="#bec9ce" fill-opacity="0.87" stroke="#eef4f8" stroke-width="2"/>
  <text x="752" y="306" font-size="14" fill="#161a22" stroke="#161a22" stroke-width="0.25" textLength="91" lengthAdjust="spacingAndGlyphs">61CCFE mini</text>
  <g stroke="#141a26" stroke-width="2" fill="none">
    <polyline points="786,371 799,334 813,369"/>
    <polyline points="884,371 898,334 914,369"/>
    <line x1="851" y1="392" x2="851" y2="326"/>
  </g>
  <polygon points="846,330 851,320 856,330" fill="#141a26"/>
  <g stroke="#f0f0f0" stroke-width="2"><line x1="780" y1="377" x2="816" y2="377"/><line x1="882" y1="377" x2="920" y2="377"/></g>
  <circle cx="780" cy="377" r="8" fill="#ffffff"/>
  <circle cx="816" cy="377" r="8" fill="#ee1111"/>
  <circle cx="882" cy="377" r="8" fill="#7fd0f0"/>
  <circle cx="920" cy="377" r="8" fill="#ee1111"/>
  <g font-size="14" fill="#161a22" stroke="#161a22" stroke-width="0.25" text-anchor="start">
    <text x="757" y="414" textLength="192" lengthAdjust="spacingAndGlyphs">Remmonnte faverte for rout</text>
    <text x="758" y="430" textLength="187" lengthAdjust="spacingAndGlyphs">cents for me inle basigdies</text>
    <text x="776" y="446" textLength="147" lengthAdjust="spacingAndGlyphs">wii tor lest le favorite</text>
  </g>
  <rect x="786" y="493" width="172" height="38" rx="6" fill="#111a27"/>
  <g font-size="13.5" fill="#f4f6fa">
    <text x="797" y="509" textLength="148" lengthAdjust="spacingAndGlyphs">many lave cont yourtes</text>
    <text x="797" y="525" textLength="140" lengthAdjust="spacingAndGlyphs">fror ho!ü 2 emorgoecs</text>
    <text x="825" y="541" textLength="24" lengthAdjust="spacingAndGlyphs">0/ 1</text>
  </g>
</g>

<!-- ===== CASE 19 (left) ===== -->
<g>
  <rect x="42" y="557" width="270" height="201" rx="10" fill="#67acb2" fill-opacity="0.9" stroke="#f2f6f8" stroke-width="2"/>
  <path d="M43 567 Q43 558 52 558 L134 558 L134 576 Q134 584.5 126 584.5 L43 584.5 Z" fill="#c3c7ce"/>
  <text x="52" y="577.5" font-size="14.5" fill="#1a2030" textLength="61" lengthAdjust="spacingAndGlyphs">CASE 19</text>
  <rect x="76" y="592" width="197" height="146" fill="#72bf8e"/>
  <g stroke="#f0fff4" stroke-width="1.5" fill="none">
    <rect x="76" y="592" width="197" height="146"/>
    <line x1="174" y1="592" x2="174" y2="738"/>
    <circle cx="174" cy="656" r="21.5"/>
    <rect x="76" y="629" width="25" height="83"/>
    <rect x="247" y="629" width="26" height="83"/>
    <line x1="76" y1="712" x2="273" y2="712"/>
    <rect x="149" y="727" width="51" height="11"/>
    <line x1="149" y1="592" x2="149" y2="605"/>
    <line x1="200" y1="592" x2="200" y2="605"/>
    <path d="M76 600 Q84 600 85 592"/>
    <path d="M273 600 Q265 600 264 592"/>
  </g>
  <g font-size="10" fill="#eef"><text x="85" y="665">3</text><text x="259" y="665">9</text></g>
  <g fill="#ee1111">
    <circle cx="127" cy="625.5" r="8"/><circle cx="210" cy="629" r="8"/><circle cx="127" cy="668.5" r="8"/>
    <circle cx="188" cy="653" r="8"/><circle cx="231" cy="653" r="8"/><circle cx="120" cy="693" r="8"/>
    <circle cx="188" cy="693" r="8"/><circle cx="241" cy="693" r="8"/>
  </g>
  <g fill="#e8e020"><circle cx="143" cy="643" r="2"/><circle cx="196" cy="632" r="2"/><circle cx="221" cy="668" r="2"/><circle cx="187" cy="714" r="2"/></g>
</g>

<!-- ===== CASE 17 (right) ===== -->
<g>
  <rect x="705" y="593" width="260" height="165" rx="10" fill="#74ba8b" stroke="#f2f8f4" stroke-width="2"/>
  <text x="715" y="613" font-size="14.5" fill="#1a2520" textLength="76" lengthAdjust="spacingAndGlyphs">24 CASE 17</text>
  <g stroke="#f0fff4" stroke-width="1.5" fill="none" stroke-linecap="round">
    <line x1="824" y1="634" x2="824" y2="725"/>
    <circle cx="825" cy="679.5" r="23.5"/>
    <line x1="775" y1="663.5" x2="796" y2="663.5"/>
    <path d="M755 695 L774 691 Q777 690 777 684 Q778 677 788 674.5"/>
    <path d="M782 673 L788 674.5 L786 680"/>
    <path d="M842 658 Q854 660 862 663"/>
    <path d="M872 655 Q874 643 866 632"/>
    <path d="M873 644 Q880 651 893 650"/>
    <path d="M842 704 Q855 704 862 706"/>
    <path d="M856 682 L863 674 L867 681"/>
  </g>
  <g font-size="12" fill="#eef8f0"><text x="736" y="700">W'</text><text x="857" y="621">8I7</text><text x="895" y="654" font-size="13">ec</text><text x="864" y="706">ee</text><text x="819" y="684" font-size="10">8-</text></g>
  <g fill="#ee1111">
    <circle cx="767" cy="664" r="8"/><circle cx="868.5" cy="664" r="8"/><circle cx="776.5" cy="713.5" r="8"/><circle cx="866.5" cy="716" r="8"/>
  </g>
</g>

<!-- ===== CASE 95 (center bottom) ===== -->
<g>
  <path d="M381 750.5 L630 750.5 Q638 750.5 638 758.5 L638 929.5 Q638 937.5 630 937.5 L521.5 937.5 L511.6 946.5 L501.7 937.5 L381 937.5 Q373 937.5 373 929.5 L373 758.5 Q373 750.5 381 750.5 Z" fill="#73bf8c" stroke="#dff5e6" stroke-width="2"/>
  <path d="M372 758 L372 740 Q372 732 380 732 L460 732 Q468 732 468 740 L468 750 Q468 758 460 758 Z" fill="#c5c9d0"/>
    <g><rect x="399.0" y="764" width="13.4" height="151" fill="#0a4020" opacity="0.05"/><rect x="425.8" y="764" width="13.4" height="151" fill="#0a4020" opacity="0.05"/><rect x="452.5" y="764" width="13.4" height="151" fill="#0a4020" opacity="0.05"/><rect x="479.2" y="764" width="13.4" height="151" fill="#0a4020" opacity="0.05"/><rect x="506.0" y="764" width="13.4" height="151" fill="#0a4020" opacity="0.05"/><rect x="532.8" y="764" width="13.4" height="151" fill="#0a4020" opacity="0.05"/><rect x="559.5" y="764" width="13.4" height="151" fill="#0a4020" opacity="0.05"/><rect x="586.2" y="764" width="13.4" height="151" fill="#0a4020" opacity="0.05"/></g>
  <text x="383" y="749" font-size="13" fill="#1a2030" textLength="68" lengthAdjust="spacingAndGlyphs">CASE 95</text>
  <g stroke="#e8fbee" stroke-width="1.3" fill="none">
    <rect x="399" y="764" width="214" height="151"/>
    <line x1="512" y1="764" x2="512" y2="930"/>
    <circle cx="512.6" cy="847" r="18"/>
    <line x1="399" y1="798" x2="411" y2="798"/><line x1="399" y1="883" x2="411" y2="883"/>
    <line x1="601" y1="798" x2="613" y2="798"/><line x1="601" y1="883" x2="613" y2="883"/>
    <line x1="390" y1="830" x2="390" y2="853"/><line x1="621.5" y1="830" x2="621.5" y2="853"/>
  </g>
  <g stroke="#1a2a20" stroke-width="1.1" fill="none">
    <path d="M475 914 Q482 893 512 890 Q542 893 550 914"/>
  </g>
  <g fill="#ee1111">
    <circle cx="455.5" cy="782.5" r="8"/><circle cx="517" cy="800.5" r="8"/><circle cx="454" cy="815.5" r="8"/>
    <circle cx="580.7" cy="812" r="8"/><circle cx="519.6" cy="856" r="8"/><circle cx="441.6" cy="885" r="8"/>
    <circle cx="561.8" cy="882.7" r="8"/><circle cx="555" cy="902.6" r="8"/>
  </g>
  <text x="451" y="890" font-size="12" font-weight="bold" fill="#16261c" textLength="100" lengthAdjust="spacingAndGlyphs">FNE HEEROMNE</text>
  <text x="473" y="923" font-size="8" fill="#2a4a34" textLength="78" lengthAdjust="spacingAndGlyphs">CALI IT PATS SEND</text>
</g>
<text x="400" y="966" font-size="18" fill="#f0f2f6" textLength="211" lengthAdjust="spacingAndGlyphs">Big towiteps feqm flatleg</text>

<!-- ===== text columns ===== -->
<g fill="#ffffff" stroke="#ffffff" stroke-width="0.7">
  <text x="92" y="814" font-size="24" font-weight="bold" textLength="130" lengthAdjust="spacingAndGlyphs">1. Case 1 -</text>
  <text x="711" y="814" font-size="24" font-weight="bold" textLength="162" lengthAdjust="spacingAndGlyphs">2. Saariet 2 - 1</text>
</g>
<g fill="#eef0f4" font-size="18">
  <text x="90" y="848" textLength="196" lengthAdjust="spacingAndGlyphs">Domiilant watre wihers</text>
  <text x="90" y="874" textLength="207" lengthAdjust="spacingAndGlyphs">aritiness notcial elterne</text>
  <text x="711" y="848" textLength="219" lengthAdjust="spacingAndGlyphs">Pne dondlotatterthe casee</text>
  <text x="711" y="874" textLength="206" lengthAdjust="spacingAndGlyphs">denteerous contecttacks</text>
</g>
<g fill="#eef0f4" font-size="15">
  <text x="92" y="900">-</text>
  <text x="104" y="900" textLength="193" lengthAdjust="spacingAndGlyphs">Many low quallity, nots with</text>
  <text x="104" y="919" textLength="206" lengthAdjust="spacingAndGlyphs">possestions  hon pocetlioums</text>
  <text x="104" y="938" textLength="153" lengthAdjust="spacingAndGlyphs">thots sale angles 0r-1</text>
  <text x="716" y="900">-</text>
  <text x="728" y="900" textLength="192" lengthAdjust="spacingAndGlyphs">I Large saffifficg postesio in·</text>
  <text x="728" y="919" textLength="209" lengthAdjust="spacingAndGlyphs">beasion tiness snallilyness for</text>
  <text x="728" y="938" textLength="193" lengthAdjust="spacingAndGlyphs">compact-and candacy modl</text>
</g>

<!-- title -->
<g fill="#ffffff" font-weight="bold" text-anchor="start" stroke="#ffffff" stroke-width="1.3" stroke-linejoin="round">
  <text x="290" y="60.5" font-size="42" textLength="446" lengthAdjust="spacingAndGlyphs">Resllefitionall iittees</text>
  <text x="333" y="112.5" font-size="42" textLength="369" lengthAdjust="spacingAndGlyphs">Sey Y iMiobiMes</text>
</g>
<text x="252" y="186" font-size="20" fill="#e8eaf0" textLength="517" lengthAdjust="spacingAndGlyphs">A cnedllingssanes 5 dimomion intstead and final score.</text>

</svg>
</body></html>
